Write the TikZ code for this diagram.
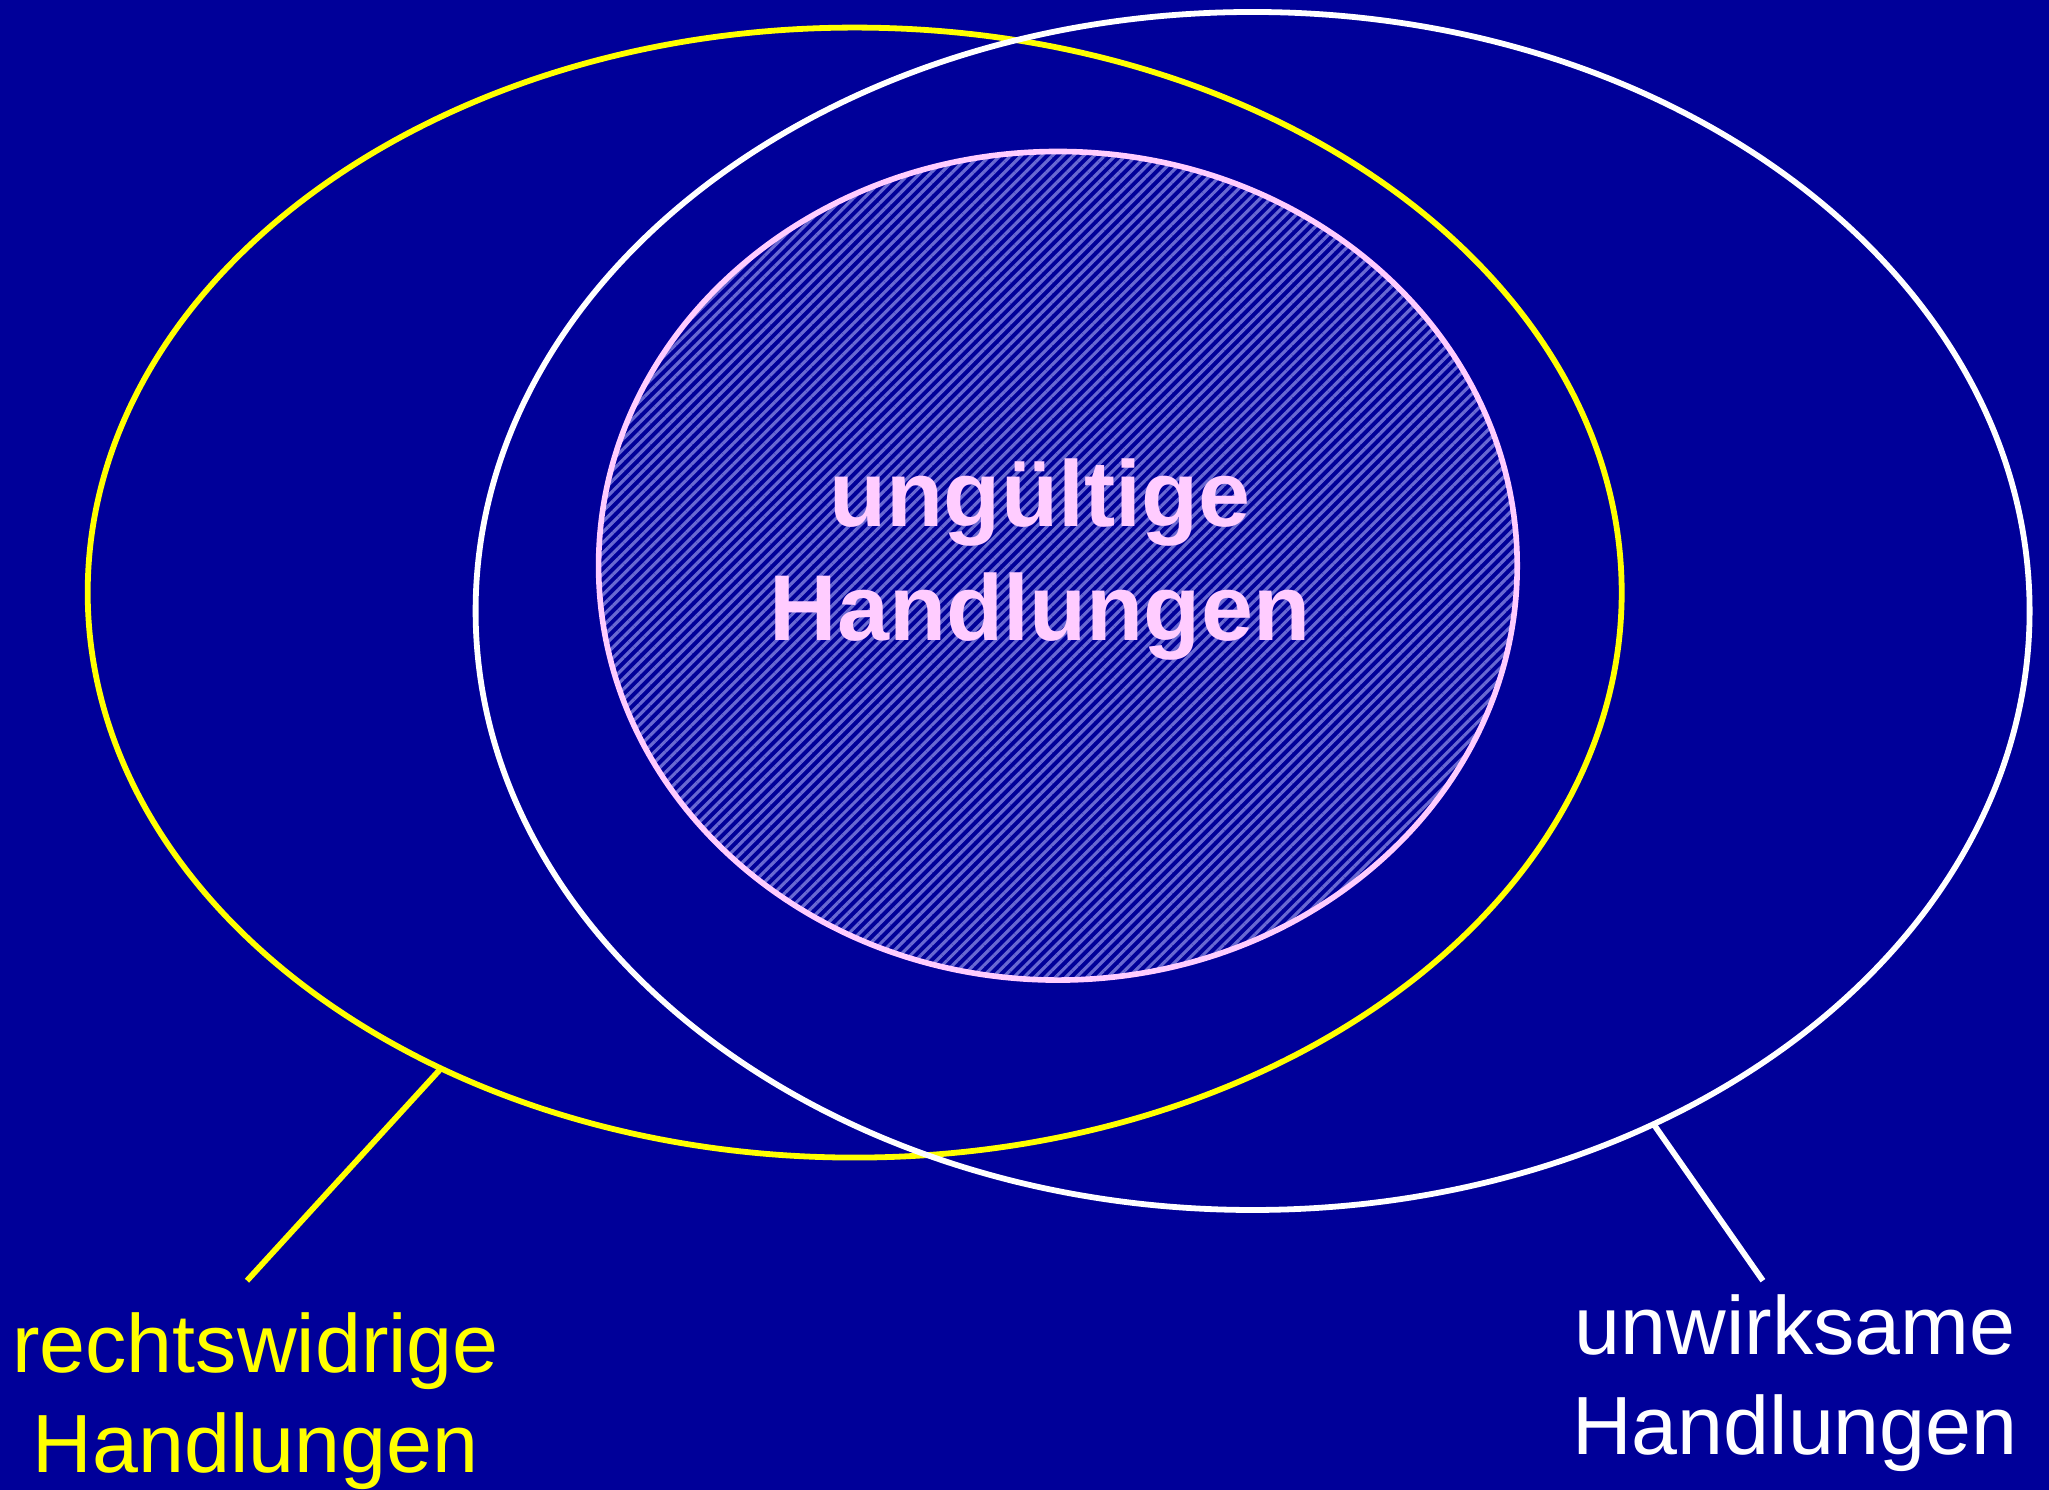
\documentclass[tikz,border=0pt]{standalone}
\usepackage{fontspec}
\setmainfont{Liberation Sans}
\usetikzlibrary{shapes.geometric,patterns.meta}

\definecolor{navy}{RGB}{0,0,153}
\definecolor{setyellow}{RGB}{255,255,0}
\definecolor{setpink}{RGB}{255,204,255}
\definecolor{hatchblue}{RGB}{105,105,210}

\begin{document}
\begin{tikzpicture}[
    set/.style={ellipse,draw,line width=1.65pt,inner sep=0pt,outer sep=0pt},
    setlabel/.style={align=center,font=\fontsize{23.5}{28.5}\selectfont,inner sep=0pt}]

\fill[navy] (0,0) rectangle (20.49,14.90);

\node[set,setyellow,minimum width=15.34cm,minimum height=11.30cm] (rechts) at (8.547,8.974) {};
\node[set,white,minimum width=15.54cm,minimum height=11.98cm] (unwirk) at (12.526,8.79) {};
\node[set,setpink,line width=1.6pt,minimum width=9.186cm,minimum height=8.286cm,
    pattern={Lines[angle=45,distance=2.1pt,line width=0.9pt]},pattern color=hatchblue] (ungueltig) at (10.579,9.242) {};

\node[align=center,text=setpink,font=\fontsize{26.6}{32.4}\selectfont\bfseries,inner sep=0pt] (ungtext) at (10.40,9.305) {ungültige\\Handlungen};

\coordinate (rechtsend) at (2.47,2.093);
\coordinate (unwirkend) at (17.629,2.093);

\draw[setyellow,line width=1.65pt] (rechts.229) -- (rechtsend);
\draw[white,line width=1.65pt] (unwirk.308.5) -- (unwirkend);

\node[setlabel,text=setyellow] (rechtstext) at (2.555,0.89) {rechtswidrige\\Handlungen};
\node[setlabel,text=white] (unwirktext) at (17.95,1.07) {unwirksame\\Handlungen};
\end{tikzpicture}
\end{document}
